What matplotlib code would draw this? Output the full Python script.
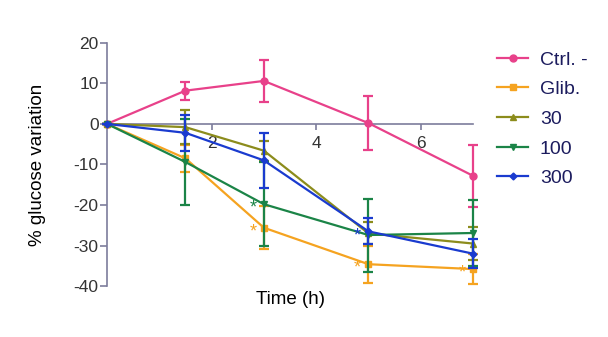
import matplotlib
matplotlib.use("Agg")
import matplotlib.pyplot as plt
from matplotlib.lines import Line2D
import numpy as np

plt.rcParams['font.family'] = ['Liberation Sans', 'DejaVu Sans']
plt.rcParams['axes.unicode_minus'] = False

time_h = [0, 1.5, 3, 5, 7]
series_names = ["Ctrl. -", "Glib.", "30", "100", "300"]
ctrl_mean = [0, 8.2, 10.6, 0.2, -12.8]
ctrl_sem = [0, 2.2, 5.2, 6.6, 7.7]
glib_mean = [0, -8.5, -25.6, -34.6, -35.8]
glib_sem = [0, 3.3, 5.3, 4.6, 3.8]
d30_mean = [0, -0.8, -6.6, -27.0, -29.5]
d30_sem = [0, 4.2, 2.5, 2.7, 4.0]
d100_mean = [0, -9.4, -19.8, -27.4, -26.9]
d100_sem = [0, 10.7, 10.3, 9.0, 8.1]
d300_mean = [0, -2.2, -9.0, -26.5, -32.0]
d300_sem = [0, 4.5, 6.7, 3.2, 3.6]
# significance asterisks: (series index, time index)
sig_series = [1, 3, 1, 4, 1]
sig_time_idx = [2, 2, 3, 3, 4]
y_ticks = [-40, -30, -20, -10, 0, 10, 20]
x_ticks = [2, 4, 6]

colors = ["#e8418a", "#f5a320", "#8c8c1c", "#1b8447", "#1a3bcf"]
markers = ["o", "s", "^", "v", "D"]
msizes = [5, 5, 5, 5, 3.5]

means = [ctrl_mean, glib_mean, d30_mean, d100_mean, d300_mean]
sems = [ctrl_sem, glib_sem, d30_sem, d100_sem, d300_sem]

fig = plt.figure(figsize=(6.08, 3.37), dpi=100)
ax = fig.add_axes([0.176, 0.151, 0.602, 0.722])

handles = []
for i in range(5):
    cont = ax.errorbar(time_h, means[i], yerr=sems[i], color=colors[i], marker=markers[i],
                       markersize=msizes[i], linewidth=1.6, elinewidth=1.6, capsize=3.5,
                       capthick=1.6, zorder=3 + i)
    cont[0].set_clip_on(False)
    for c in cont[1]:
        c.set_clip_on(False)
    for c in cont[2]:
        c.set_clip_on(False)
    handles.append(Line2D([], [], color=colors[i], marker=markers[i],
                          markersize=msizes[i], linewidth=1.6, label=series_names[i]))

for s, t in zip(sig_series, sig_time_idx):
    ax.annotate("*", xy=(time_h[t], means[s][t]), xytext=(-8, -3),
                textcoords="offset points", ha="center", va="center",
                color=colors[s], fontsize=13, zorder=10, annotation_clip=False)

ax.set_xlim(0, 7)
ax.set_ylim(-40, 20)
ax.set_yticks(y_ticks)
ax.set_xticks(x_ticks)
spine_color = "#7d7d9c"
ax.spines['top'].set_visible(False)
ax.spines['right'].set_visible(False)
ax.spines['bottom'].set_position(('data', 0))
ax.spines['bottom'].set_color(spine_color)
ax.spines['left'].set_color(spine_color)
ax.spines['bottom'].set_linewidth(1.2)
ax.spines['left'].set_linewidth(1.2)
ax.tick_params(axis='y', direction='out', length=5, width=1.2, color=spine_color,
               labelsize=12.5, labelcolor="#333333", pad=1)
ax.tick_params(axis='x', direction='out', length=4, width=1.2, color=spine_color,
               labelsize=12.5, labelcolor="#333333", pad=5)
ax.patch.set_visible(False)

ax.set_ylabel("% glucose variation", fontsize=13.5, labelpad=20)
fig.text(290 / 608, 1 - 300 / 337, "Time (h)", fontsize=13.5,
         ha="center", va="center")

leg = fig.legend(handles=handles, loc="upper left", bbox_to_anchor=(497 / 608, 1 - 51 / 337),
                 frameon=False, fontsize=14, handlelength=1.6, handletextpad=0.6,
                 labelspacing=0.62, borderpad=0, borderaxespad=0)
for txt in leg.get_texts():
    txt.set_color("#1c1c5e")

fig.savefig("out.png", dpi=100)
